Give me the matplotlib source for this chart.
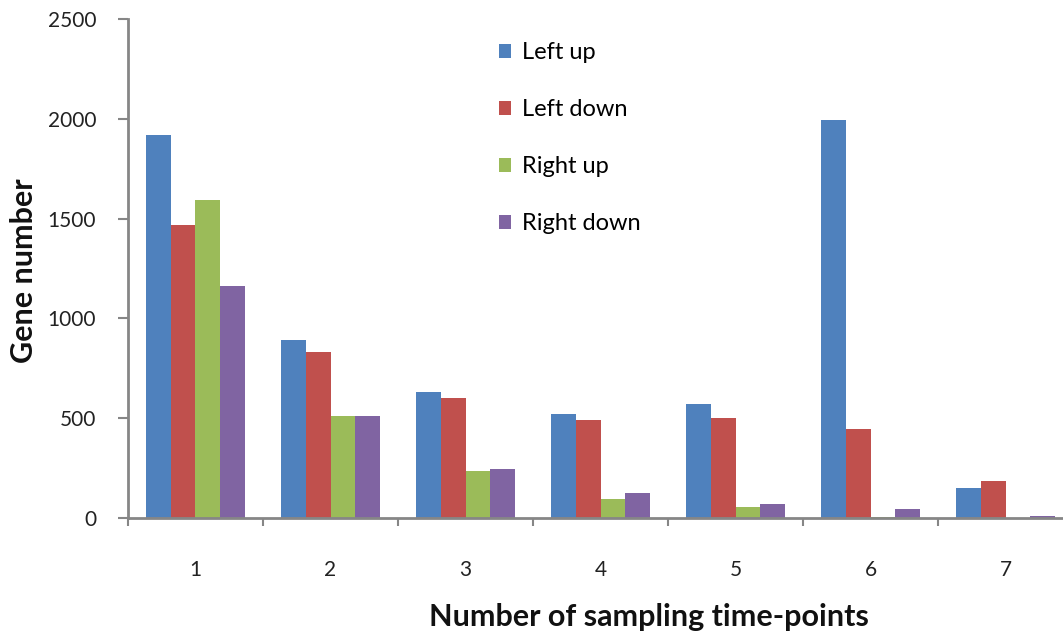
import matplotlib
matplotlib.use("Agg")
import matplotlib.pyplot as plt
from matplotlib.patches import Patch
import numpy as np

categories = ["1", "2", "3", "4", "5", "6", "7"]
series_names = ["Left up", "Left down", "Right up", "Right down"]
left_up = [1917, 890, 632, 520, 572, 1995, 152]
left_down = [1468, 832, 600, 492, 502, 444, 184]
right_up = [1595, 512, 234, 94, 54, 6, 0]
right_down = [1160, 512, 244, 124, 72, 44, 8]
y_ticks = [0, 500, 1000, 1500, 2000, 2500]

colors = ["#4F81BD", "#C0504D", "#9BBB59", "#8064A2"]

plt.rcParams['font.family'] = ['Lato', 'DejaVu Sans']

fig = plt.figure(figsize=(10.63, 6.34), dpi=100)
W, H = 1063, 634
ax = fig.add_axes([128 / W, (H - 518) / H, 945 / W, 499 / H])

x = np.arange(1, len(categories) + 1)
bw = 1 / 5.5
all_series = [left_up, left_down, right_up, right_down]
for i, (vals, c) in enumerate(zip(all_series, colors)):
    ax.bar(x + (i - 1.5) * bw, vals, width=bw, color=c, edgecolor='none')

ax.set_xlim(0.5, len(categories) + 0.5)
ax.set_ylim(0, 2500)
ax.set_yticks(y_ticks)
ax.set_yticklabels([str(t) for t in y_ticks], fontsize=15, color='#222222')
ax.set_xticks(x)
ax.set_xticklabels(categories, fontsize=15, color='#222222')
ax.set_xticks(np.arange(0.5, len(categories) + 1, 1), minor=True)
ax.tick_params(axis='x', which='major', length=0, pad=30)
ax.tick_params(axis='x', which='minor', length=6, width=1.5, color='#868686', direction='out')
ax.tick_params(axis='y', which='major', length=7, width=1.5, color='#868686', direction='out', pad=16)

for s in ['top', 'right']:
    ax.spines[s].set_visible(False)
for s in ['left', 'bottom']:
    ax.spines[s].set_color('#868686')
    ax.spines[s].set_linewidth(2)

fig.text(649 / W, 1 - 617 / H, "Number of sampling time-points", ha='center', va='center',
         fontsize=22, fontweight='bold', color='#111111')
fig.text(24 / W, 1 - 271 / H, "Gene number", ha='center', va='center', rotation=90,
         fontsize=22, fontweight='bold', color='#111111')

handles = [Patch(facecolor=c, edgecolor='none') for c in colors]
fig.legend(handles, series_names, loc='upper left', bbox_to_anchor=(499 / W, 1 - 42 / H),
           frameon=False, fontsize=17, labelspacing=1.53, handlelength=0.52, handleheight=0.52,
           handletextpad=0.47, borderaxespad=0, borderpad=0)

fig.savefig("out.png", dpi=100, facecolor='white')
